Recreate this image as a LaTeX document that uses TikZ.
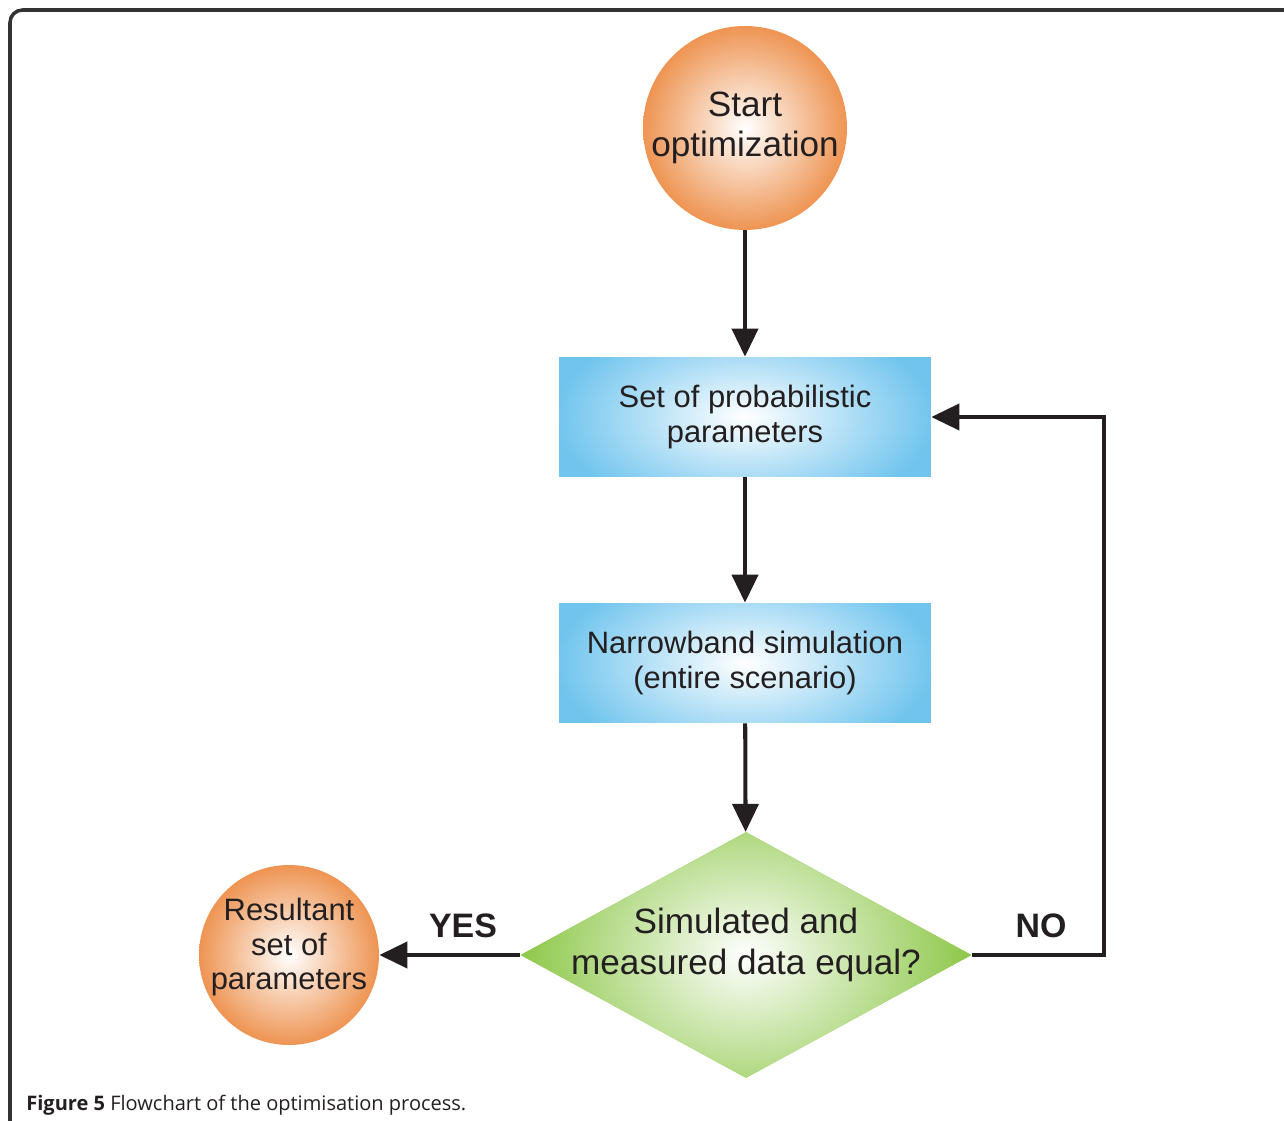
\documentclass[tikz,border=0pt]{standalone}
\usepackage{fontspec}
\setmainfont{Liberation Sans}
\newfontfamily\capfont{Open Sans}
\usetikzlibrary{arrows.meta,shapes.geometric}

\definecolor{ballorange}{RGB}{238,148,82}
\definecolor{boxblue}{RGB}{112,196,238}
\definecolor{testgreen}{RGB}{138,198,68}
\definecolor{inkblack}{RGB}{35,31,32}

\tikzset{
  ball/.style={circle, inner sep=-4pt, align=center, text=inkblack,
    inner color=white, outer color=ballorange},
  stepbox/.style={rectangle, fill=boxblue, minimum width=7.44cm, minimum height=2.4cm,
    align=center, text=inkblack, font=\fontsize{17.6}{20}\selectfont,
    path picture={\shade[inner color=white, outer color=boxblue]
      (path picture bounding box.center) ellipse (3.8cm and 2cm);}},
  test/.style={diamond, aspect=1.83, fill=testgreen, inner sep=-8pt,
    minimum width=9.02cm, minimum height=4.92cm, align=center, text=inkblack,
    path picture={\shade[inner color=white, outer color=testgreen]
      (path picture bounding box.center) ellipse (4.6cm and 3.6cm);}},
  flow/.style={line width=2.3pt, draw=inkblack, -{Triangle[width=0.52cm,length=0.56cm]}},
  answer/.style={font=\bfseries\fontsize{19.3}{22}\selectfont, text=inkblack}
}

\begin{document}
\begin{tikzpicture}[x=0.02cm,y=-0.02cm]
\useasboundingbox (0,0) rectangle (1284,1121);
% frame and caption
\draw[line width=2pt, draw=black!80, rounded corners=0.25cm] (1300,10) -- (10,10) -- (10,1140);
\node[anchor=base west, inner sep=0, text=inkblack, font=\capfont\fontsize{11.4}{13}\selectfont] (caption) at (26,1110) {\textbf{Figure 5} Flowchart of the optimisation process.};

% flow nodes
\node[ball, minimum size=4.08cm, font=\fontsize{20}{22.7}\selectfont] (start) at (745,128) {Start\\optimization};
\node[stepbox] (params) at (745,417) {Set of probabilistic\\parameters};
\node[stepbox] (narrow) at (745,663) {Narrowband simulation\\(entire scenario)};
\node[test, text depth=15.6pt, font=\fontsize{20}{23}\selectfont] (equal) at (746,955) {Simulated and\\measured data equal?};
\node[ball, minimum size=3.6cm, text depth=12.7pt, font=\fontsize{17.6}{19.6}\selectfont] (result) at (289,955) {Resultant\\set of\\parameters};

\node[answer] (yes) at (463,926) {YES};
\node[answer] (no) at (1041,926) {NO};
\coordinate (turn) at (1104,955);

% connectors
\draw[flow] (start) -- (params);
\draw[flow] (params) -- (narrow);
\draw[flow] (narrow) -- (equal);
\draw[flow] (equal.east) -- (turn) |- (params.east);
\draw[flow] (equal.west) -- (result);

\end{tikzpicture}
\end{document}
